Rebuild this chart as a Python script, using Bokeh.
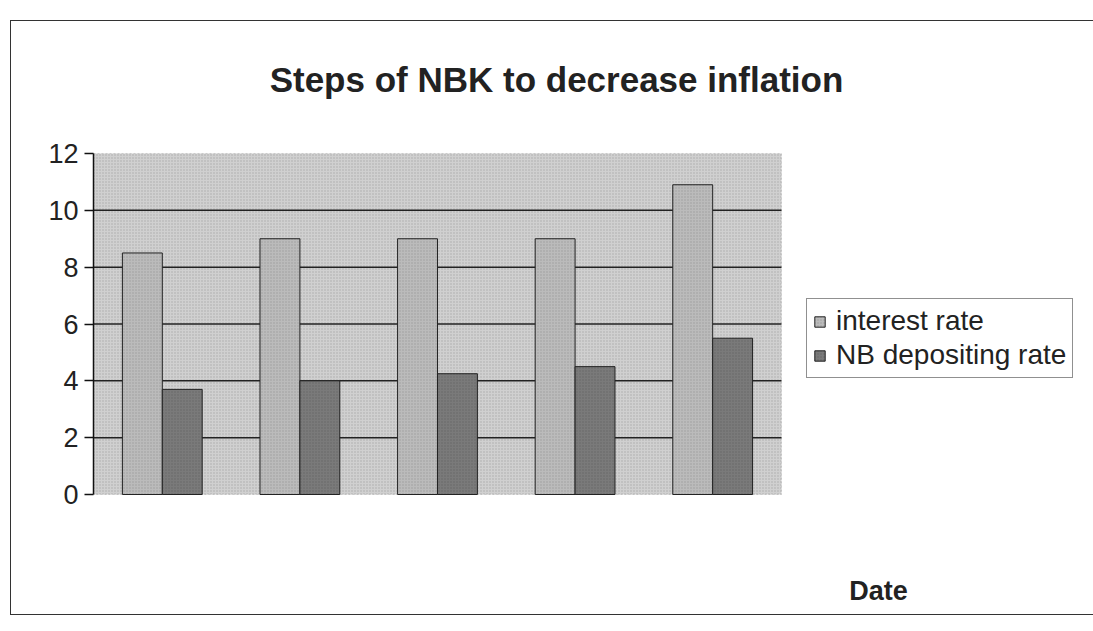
from bokeh.plotting import figure
from bokeh.models import (ColumnDataSource, Legend, LegendItem, Label, FixedTicker, Range1d,
                          BoxAnnotation)
from bokeh.transform import dodge
from bokeh.embed import file_html
from bokeh.resources import INLINE

# ---- data ----
dates = [1, 2, 3, 4, 5]
interest_rate = [8.5, 9.0, 9.0, 9.0, 10.9]
depositing_rate = [3.7, 4.0, 4.25, 4.5, 5.5]
y_ticks = [0, 2, 4, 6, 8, 10, 12]
series_names = ["interest rate", "NB depositing rate"]
title_text = "Steps of NBK to decrease inflation"
x_title = "Date"

src = ColumnDataSource(dict(date=dates, interest=interest_rate, deposit=depositing_rate))

FONT = "Liberation Sans"
x_lo, x_hi = dates[0] - 0.5, dates[-1] + 0.5
y_lo, y_hi = y_ticks[0], y_ticks[-1]

# The frame covers the whole chart box; the plot area is the shaded data region.
p = figure(width=1083, height=595, output_backend="svg", toolbar_location=None,
           x_range=Range1d(x_lo, 7.775), y_range=Range1d(-4.293, 16.645),
           x_axis_location=None,
           min_border_left=82, min_border_right=0, min_border_top=0, min_border_bottom=0,
           background_fill_color="white", border_fill_color="white", outline_line_color=None)
p.styles = {"margin-left": "10px", "margin-top": "20px", "border": "1.5px solid #333",
            "border-right": "none"}

# plot area background + dotted texture + dotted border
p.add_layout(BoxAnnotation(left=x_lo, right=x_hi, bottom=y_lo, top=y_hi,
                           fill_color="#d0d0d0", fill_alpha=1, line_alpha=0, level="underlay"))
p.add_layout(BoxAnnotation(left=x_lo, right=x_hi, bottom=y_lo, top=y_hi,
                           fill_alpha=0, hatch_pattern="dot", hatch_color="#9a9a9a",
                           hatch_scale=3, hatch_alpha=0.7,
                           line_color="#888888", line_dash="2 2", line_width=1, level="underlay"))

# horizontal gridlines at the inner ticks
grid_src = ColumnDataSource(dict(y=y_ticks[1:-1], x0=[x_lo] * (len(y_ticks) - 2),
                                 x1=[x_hi] * (len(y_ticks) - 2)))
p.segment(x0="x0", x1="x1", y0="y", y1="y", source=grid_src, line_color="#222222", line_width=1.5)

r1 = p.vbar(x=dodge("date", -0.145, range=p.x_range), top="interest", width=0.29, source=src,
            fill_color="#bbbbbb", line_color="#222222", line_width=1,
            hatch_pattern="dot", hatch_color="#888888", hatch_scale=3, hatch_alpha=0.6)
r2 = p.vbar(x=dodge("date", 0.145, range=p.x_range), top="deposit", width=0.29, source=src,
            fill_color="#7a7a7a", line_color="#222222", line_width=1,
            hatch_pattern="dot", hatch_color="#555555", hatch_scale=3, hatch_alpha=0.6)

p.xgrid.visible = False
p.ygrid.visible = False
p.yaxis.bounds = (y_lo, y_hi)
p.yaxis.ticker = FixedTicker(ticks=y_ticks)
p.yaxis.axis_line_color = "#111111"
p.yaxis.axis_line_width = 1.5
p.yaxis.major_tick_line_color = "#111111"
p.yaxis.major_tick_line_width = 1.5
p.yaxis.major_tick_out = 9
p.yaxis.major_tick_in = 0
p.yaxis.minor_tick_line_color = None
p.yaxis.major_label_text_font = FONT
p.yaxis.major_label_text_font_size = "27px"
p.yaxis.major_label_text_color = "#222222"
p.yaxis.major_label_standoff = 6

legend = Legend(items=[LegendItem(label=series_names[0], renderers=[r1]),
                       LegendItem(label=series_names[1], renderers=[r2])],
                location=(713, 238), border_line_color="#222222", border_line_width=1.5,
                background_fill_color="white", background_fill_alpha=1,
                label_text_font=FONT, label_text_font_size="28px", label_text_color="#222222",
                glyph_width=13, glyph_height=13, spacing=2, padding=6, margin=0,
                label_standoff=10)
p.add_layout(legend)

p.add_layout(Label(x=463, y=537, x_units="screen", y_units="screen", text=title_text,
                   text_font=FONT, text_font_style="bold", text_font_size="35px",
                   text_color="#222222", text_align="center", text_baseline="middle"))
p.add_layout(Label(x=785, y=26, x_units="screen", y_units="screen", text=x_title,
                   text_font=FONT, text_font_style="bold", text_font_size="27px",
                   text_color="#222222", text_align="center", text_baseline="middle"))

open("out.html", "w").write(file_html(p, INLINE))
